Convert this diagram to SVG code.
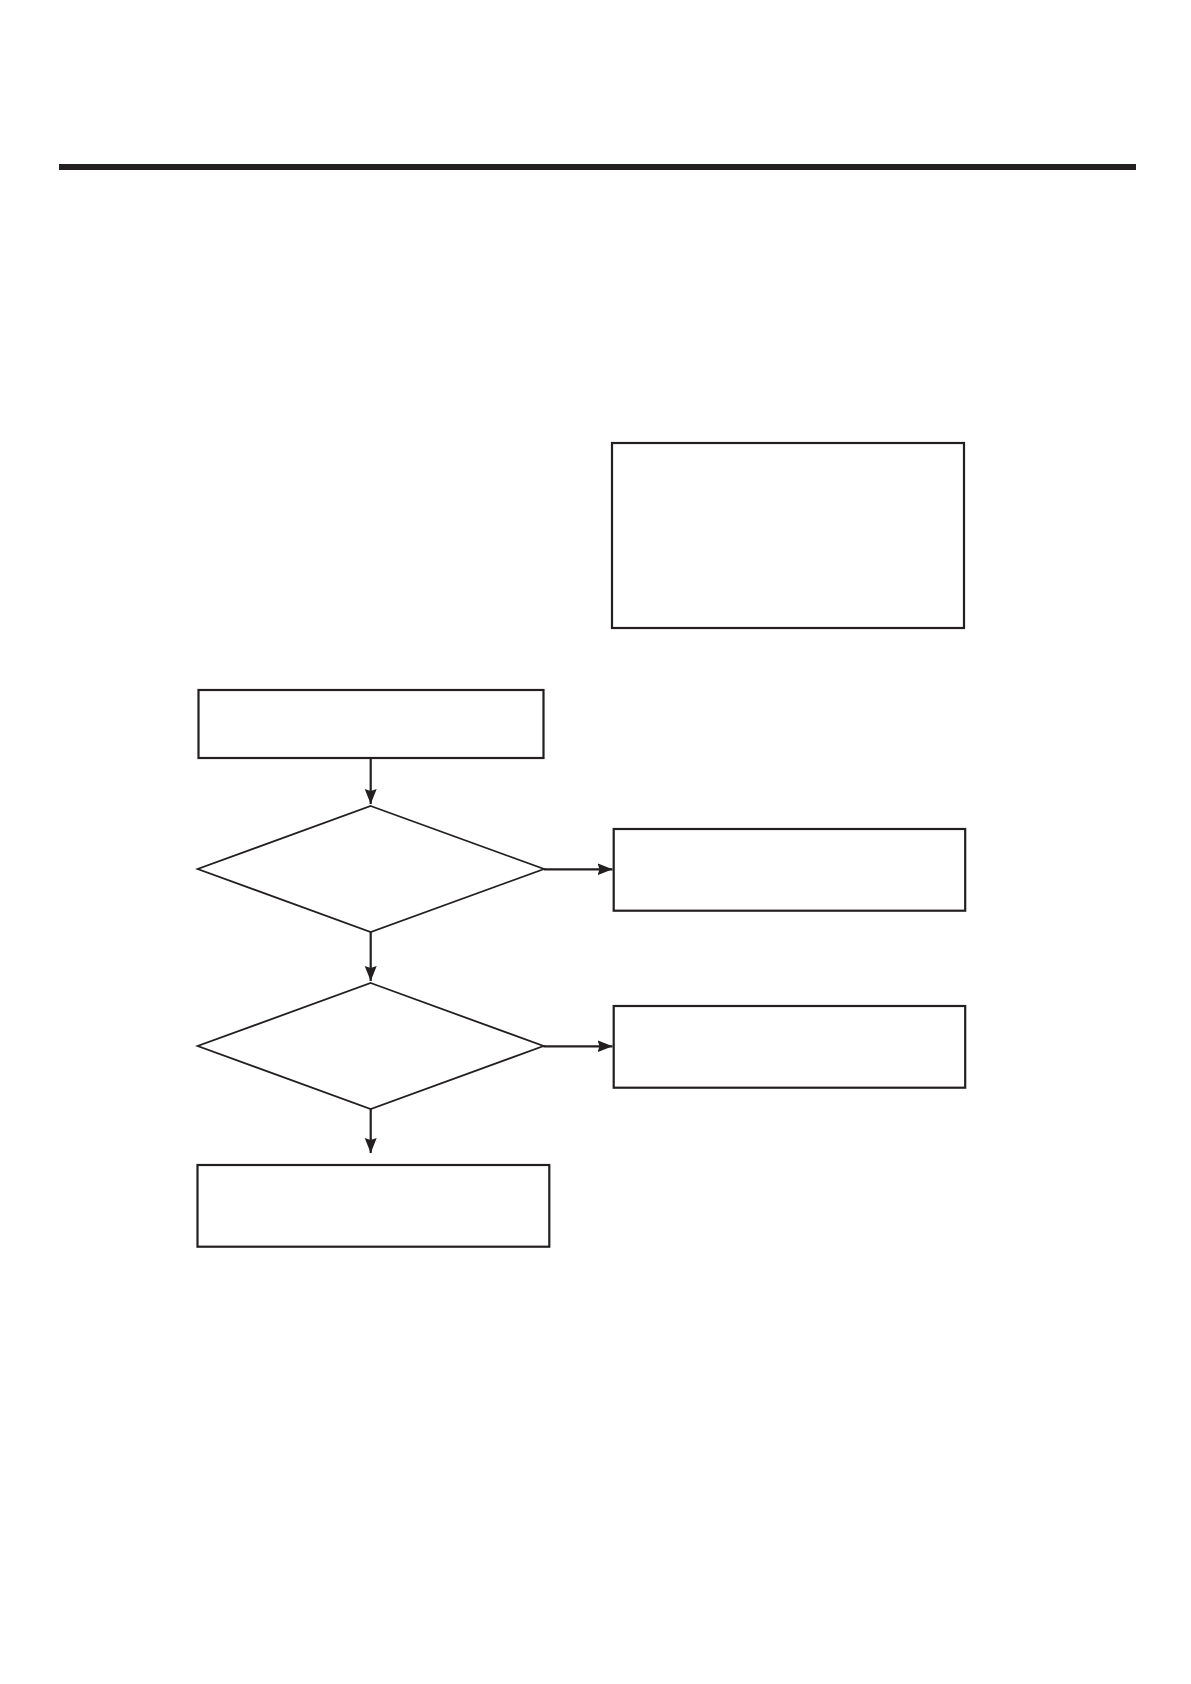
<svg xmlns="http://www.w3.org/2000/svg" width="1191" height="1684" viewBox="0 0 1191 1684">
<style>
.n{fill:#fff;stroke:#231f20;stroke-width:2.2}
.d{fill:#fff;stroke:#231f20;stroke-width:1.8}
.c{fill:none;stroke:#231f20;stroke-width:2.2;marker-end:url(#ah)}
</style>
<defs>
<marker id="ah" markerUnits="userSpaceOnUse" markerWidth="18" markerHeight="14" refX="15" refY="6" orient="auto">
<path d="M0,0 L15,6 L0,12 L2,6 Z" fill="#231f20"/>
</marker>
</defs>
<rect width="1191" height="1684" fill="#fff"/>
<rect x="59" y="164" width="1077" height="6" fill="#231f20"/>
<g id="box-top-right"><rect class="n" x="612" y="443" width="352" height="185"/></g>
<g id="box-start"><rect class="n" x="198.5" y="690" width="345" height="68"/></g>
<g id="decision-1"><polygon class="d" points="370.7,806 544,869 370.7,932 197.7,869"/></g>
<g id="box-right-1"><rect class="n" x="613.7" y="829" width="351.5" height="81.7"/></g>
<g id="decision-2"><polygon class="d" points="370.7,983 543.5,1046 370.7,1109 197.7,1046"/></g>
<g id="box-right-2"><rect class="n" x="613.7" y="1006" width="351.5" height="81.7"/></g>
<g id="box-bottom"><rect class="n" x="197.5" y="1165" width="351.8" height="81.7"/></g>
<g id="connectors">
<line class="c" x1="370.7" y1="758" x2="370.7" y2="804"/>
<line class="c" x1="544" y1="869.3" x2="612.5" y2="869.3"/>
<line class="c" x1="370.7" y1="932" x2="370.7" y2="981"/>
<line class="c" x1="543.5" y1="1046.3" x2="612.5" y2="1046.3"/>
<line class="c" x1="370.7" y1="1109" x2="370.7" y2="1153"/>
</g>
</svg>
